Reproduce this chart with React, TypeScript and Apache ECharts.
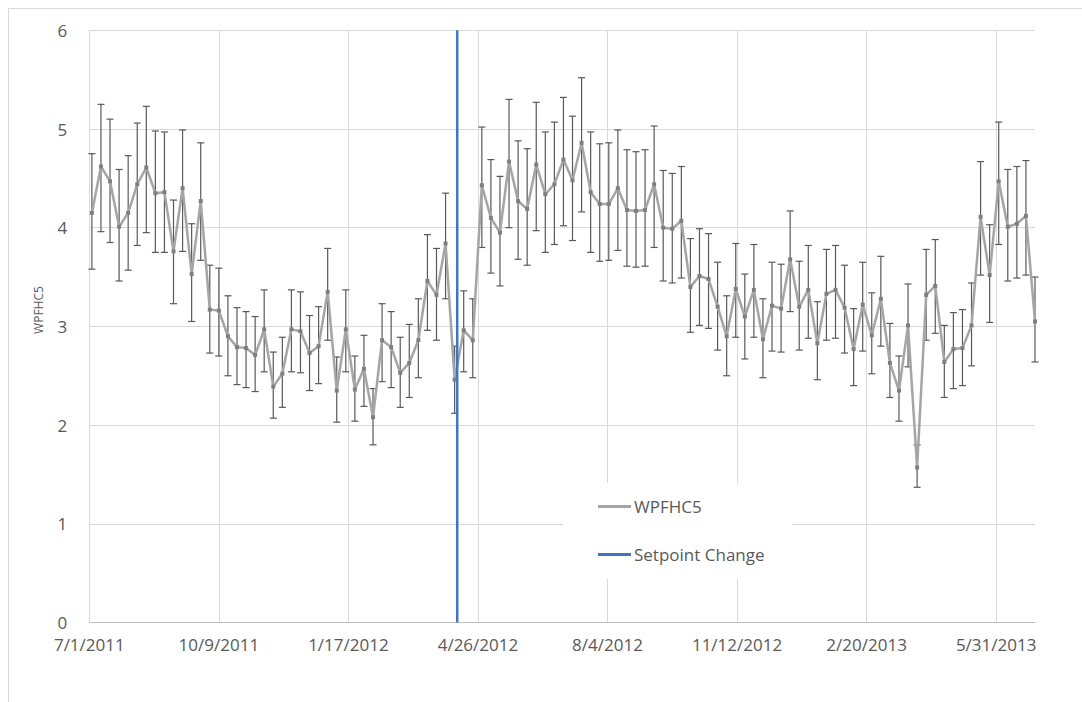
import React, { useEffect, useRef } from "react";
import * as echarts from "echarts";

// Axis range (dates) and ticks every 100 days
const axisStart = "2011-07-01";
const axisEnd = "2013-06-30";
const tickDays = 100;

// Weekly sample dates start here
const firstSampleDate = "2011-07-03";
const setpointChangeDate = "2012-04-10";
const yAxisTitle = "WPFHC5";

const wpfhc5Values = [
  4.15, 4.62, 4.47, 4.01, 4.15, 4.44, 4.61, 4.35, 4.36, 3.76,
  4.40, 3.53, 4.27, 3.17, 3.16, 2.90, 2.79, 2.78, 2.71, 2.97,
  2.39, 2.52, 2.97, 2.95, 2.73, 2.80, 3.35, 2.35, 2.97, 2.36,
  2.57, 2.08, 2.86, 2.79, 2.53, 2.63, 2.86, 3.46, 3.32, 3.84,
  2.46, 2.96, 2.86, 4.43, 4.10, 3.95, 4.67, 4.27, 4.19, 4.64,
  4.34, 4.44, 4.69, 4.48, 4.86, 4.36, 4.24, 4.24, 4.40, 4.18,
  4.17, 4.18, 4.44, 4.00, 3.99, 4.07, 3.40, 3.51, 3.48, 3.20,
  2.90, 3.38, 3.10, 3.37, 2.87, 3.21, 3.18, 3.68, 3.20, 3.37,
  2.83, 3.33, 3.37, 3.19, 2.77, 3.22, 2.91, 3.28, 2.63, 2.35,
  3.01, 1.57, 3.32, 3.41, 2.64, 2.77, 2.78, 3.01, 4.11, 3.52,
  4.47, 4.01, 4.04, 4.12, 3.05,
];

const wpfhc5Upper = [
  4.75, 5.25, 5.10, 4.59, 4.73, 5.06, 5.23, 4.98, 4.97, 4.28,
  4.99, 4.04, 4.86, 3.62, 3.59, 3.31, 3.19, 3.15, 3.10, 3.37,
  2.74, 2.89, 3.37, 3.35, 3.11, 3.20, 3.79, 2.69, 3.37, 2.70,
  2.91, 2.37, 3.23, 3.15, 2.89, 3.02, 3.28, 3.93, 3.79, 4.35,
  2.80, 3.36, 3.28, 5.02, 4.69, 4.52, 5.30, 4.88, 4.80, 5.27,
  4.97, 5.07, 5.32, 5.13, 5.52, 4.97, 4.85, 4.86, 4.99, 4.79,
  4.77, 4.79, 5.03, 4.58, 4.55, 4.62, 3.89, 3.99, 3.94, 3.65,
  3.31, 3.84, 3.53, 3.83, 3.28, 3.65, 3.63, 4.17, 3.66, 3.82,
  3.25, 3.78, 3.82, 3.62, 3.18, 3.65, 3.34, 3.71, 3.03, 2.70,
  3.43, 1.80, 3.78, 3.88, 3.01, 3.14, 3.17, 3.44, 4.67, 4.03,
  5.07, 4.59, 4.62, 4.68, 3.50,
];

const wpfhc5Lower = [
  3.58, 3.96, 3.85, 3.46, 3.57, 3.82, 3.95, 3.75, 3.75, 3.23,
  3.76, 3.05, 3.67, 2.73, 2.70, 2.50, 2.41, 2.38, 2.34, 2.54,
  2.07, 2.18, 2.54, 2.53, 2.35, 2.42, 2.86, 2.03, 2.54, 2.04,
  2.19, 1.80, 2.44, 2.38, 2.18, 2.28, 2.48, 2.96, 2.86, 3.28,
  2.12, 2.54, 2.48, 3.80, 3.54, 3.41, 4.00, 3.68, 3.62, 3.97,
  3.75, 3.83, 4.02, 3.87, 4.16, 3.75, 3.66, 3.67, 3.77, 3.61,
  3.60, 3.61, 3.80, 3.46, 3.44, 3.49, 2.94, 3.01, 2.98, 2.76,
  2.50, 2.89, 2.67, 2.89, 2.48, 2.75, 2.74, 3.15, 2.76, 2.88,
  2.46, 2.86, 2.88, 2.73, 2.40, 2.75, 2.52, 2.80, 2.28, 2.04,
  2.59, 1.37, 2.86, 2.93, 2.28, 2.37, 2.40, 2.60, 3.52, 3.04,
  3.83, 3.46, 3.49, 3.52, 2.64,
];

const DAY = 86400000;
const toDay = (s: string) =>
  Math.round((Date.parse(s + "T00:00:00Z") - Date.parse(axisStart + "T00:00:00Z")) / DAY);
const dayLabel = (d: number) => {
  const dt = new Date(Date.parse(axisStart + "T00:00:00Z") + d * DAY);
  return `${dt.getUTCMonth() + 1}/${dt.getUTCDate()}/${dt.getUTCFullYear()}`;
};

const FONT = "'Open Sans', 'Noto Sans', sans-serif";
const TXT = "#595959";

export default function App() {
  const ref = useRef<HTMLDivElement>(null);
  useEffect(() => {
    if (!ref.current) return;
    const chart = echarts.init(ref.current, undefined, { renderer: "svg" });
    const first = toDay(firstSampleDate);
    const days = wpfhc5Values.map((_, i) => first + i * 7);
    const lineData = wpfhc5Values.map((v, i) => [days[i], v]);
    const errData = wpfhc5Values.map((_, i) => [days[i], wpfhc5Lower[i], wpfhc5Upper[i]]);
    const sp = toDay(setpointChangeDate);
    const maxDay = toDay(axisEnd);

    chart.setOption({
      animation: false,
      backgroundColor: "#ffffff",
      textStyle: { fontFamily: FONT },
      grid: { left: 89.3, right: 47, top: 30.3, bottom: 79.5 },
      graphic: [
        { type: "line", shape: { x1: 8.5, y1: 8, x2: 8.5, y2: 702 }, style: { stroke: "#d9d9d9", lineWidth: 1 }, silent: true },
        { type: "line", shape: { x1: 8, y1: 8.5, x2: 1082, y2: 8.5 }, style: { stroke: "#d9d9d9", lineWidth: 1 }, silent: true },
        {
          type: "text",
          x: 38,
          y: 310,
          rotation: Math.PI / 2,
          silent: true,
          style: {
            text: yAxisTitle,
            fontSize: 12,
            fontFamily: FONT,
            fill: TXT,
            align: "center",
            verticalAlign: "middle",
          },
        },
      ],
      legend: {
        orient: "vertical",
        left: 563,
        top: 483,
        padding: [13, 28, 14, 35],
        backgroundColor: "#ffffff",
        itemGap: 27,
        itemWidth: 33,
        itemHeight: 3,
        icon: "rect",
        textStyle: { fontSize: 17, color: TXT, fontFamily: FONT, lineHeight: 21, padding: [0, 0, 0, -2] },
        data: [
          { name: "WPFHC5", itemStyle: { color: "#A5A5A5" } },
          { name: "Setpoint Change", itemStyle: { color: "#4472C4" } },
        ],
      },
      xAxis: {
        type: "value",
        min: 0,
        max: maxDay,
        interval: tickDays,
        axisLine: { show: true, lineStyle: { color: "#bfbfbf", width: 1 } },
        axisTick: { show: false },
        splitLine: { show: true, showMaxLine: false, lineStyle: { color: "#d9d9d9", width: 1 } },
        axisLabel: {
          showMaxLabel: false,
          margin: 13,
          fontSize: 17,
          color: TXT,
          fontFamily: FONT,
          formatter: (v: number) => (v % tickDays === 0 ? dayLabel(v) : ""),
        },
      },
      yAxis: {
        type: "value",
        min: 0,
        max: 6,
        interval: 1,
        axisLine: { show: false },
        axisTick: { show: false },
        splitLine: { show: true, lineStyle: { color: "#d9d9d9", width: 1 } },
        axisLabel: { margin: 22, fontSize: 17, color: TXT, fontFamily: FONT },
      },
      series: [
        {
          name: "WPFHC5 error",
          type: "custom",
          data: errData,
          encode: { x: 0, y: [1, 2] },
          z: 2,
          silent: true,
          renderItem: (params: any, api: any) => {
            const x = api.value(0);
            const lo = api.coord([x, api.value(1)]);
            const hi = api.coord([x, api.value(2)]);
            const h = 3.5;
            const st = { stroke: "#595959", lineWidth: 1.2 };
            return {
              type: "group",
              children: [
                { type: "line", shape: { x1: lo[0], y1: lo[1], x2: hi[0], y2: hi[1] }, style: st },
                { type: "line", shape: { x1: lo[0] - h, y1: lo[1], x2: lo[0] + h, y2: lo[1] }, style: st },
                { type: "line", shape: { x1: hi[0] - h, y1: hi[1], x2: hi[0] + h, y2: hi[1] }, style: st },
              ],
            };
          },
        },
        {
          name: "WPFHC5",
          type: "line",
          data: lineData,
          z: 3,
          symbol: "rect",
          symbolSize: 4,
          showSymbol: true,
          itemStyle: { color: "#7f7f7f" },
          lineStyle: { color: "#A5A5A5", width: 2.5 },
        },
        {
          name: "Setpoint Change",
          type: "line",
          data: [
            [sp, 0],
            [sp, 6],
          ],
          z: 4,
          symbol: "none",
          itemStyle: { color: "#4472C4" },
          lineStyle: { color: "#4472C4", width: 2.5 },
        },
      ],
    });
    return () => chart.dispose();
  }, []);
  return (
    <div
      ref={ref}
      style={{ position: "absolute", left: 0, top: 0, width: 1082, height: 702, background: "#fff" }}
    />
  );
}
